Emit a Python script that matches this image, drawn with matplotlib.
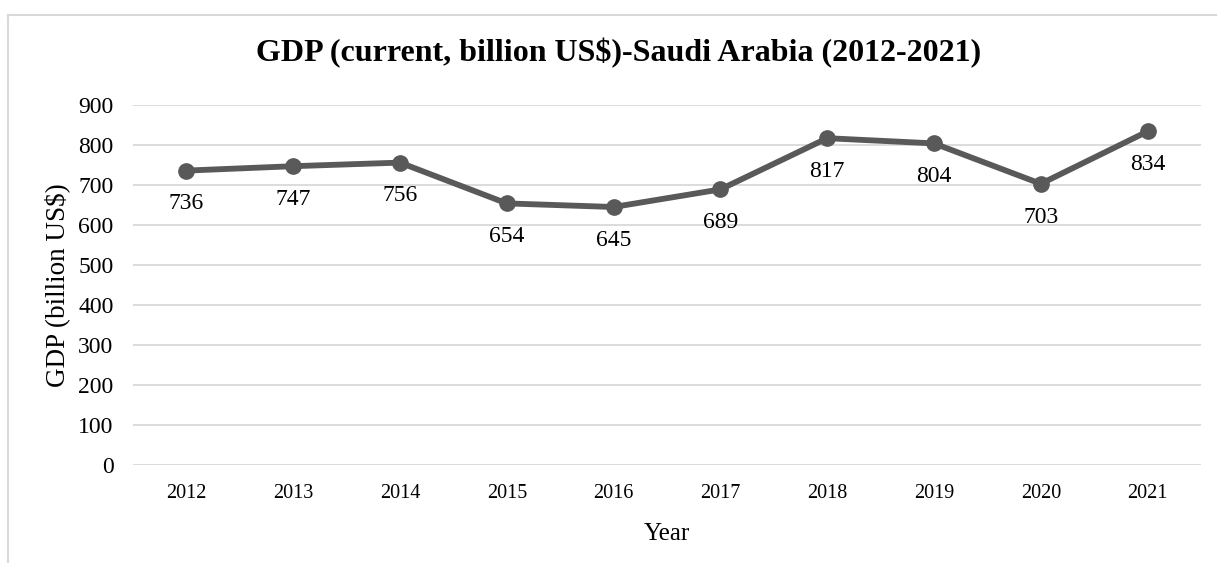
import matplotlib.pyplot as plt
from matplotlib.lines import Line2D

years = ['2012', '2013', '2014', '2015', '2016', '2017', '2018', '2019', '2020', '2021']
gdp = [736, 747, 756, 654, 645, 689, 817, 804, 703, 834]

plt.rcParams['font.family'] = ['Liberation Serif', 'DejaVu Serif']

fig = plt.figure(figsize=(12.17, 5.63), dpi=100)
ax = fig.add_axes([133 / 1217, 1 - 465 / 563, (1201 - 133) / 1217, 360 / 563])

x = list(range(len(years)))
ax.plot(x, gdp, color='#595959', linewidth=4.2, marker='o', markersize=11, zorder=3)

for xi, v in zip(x, gdp):
    ax.annotate(str(v), (xi, v), xytext=(0, -24), textcoords='offset points',
                ha='center', va='center', fontsize=17)

ax.set_xlim(-0.5, len(years) - 0.5)
ax.set_ylim(0, 900)
ax.set_yticks(range(0, 901, 100))
ax.set_xticks(x)
ax.set_xticklabels(years, fontsize=14.5)
ax.tick_params(axis='y', labelsize=17, length=0, pad=14)
ax.tick_params(axis='x', length=0, pad=14)
ax.grid(axis='y', color='#d9d9d9', linewidth=1.3)
ax.set_axisbelow(True)
for s in ax.spines.values():
    s.set_visible(False)

ax.set_xlabel('Year', fontsize=18, labelpad=14)
ax.set_ylabel('GDP (billion US$)', fontsize=19.5, labelpad=6)

fig.text(619 / 1217, 1 - 53 / 563, 'GDP (current, billion US$)-Saudi Arabia (2012-2021)',
         ha='center', va='center', fontsize=23, fontweight='bold')

# chart frame (cropped on the right and bottom)
fig.add_artist(Line2D([8 / 1217, 8 / 1217], [0, 1 - 15 / 563], transform=fig.transFigure,
                      color='#d9d9d9', linewidth=1.5))
fig.add_artist(Line2D([8 / 1217, 1], [1 - 15 / 563, 1 - 15 / 563], transform=fig.transFigure,
                      color='#d9d9d9', linewidth=1.5))

fig.savefig('out.png', dpi=100)
